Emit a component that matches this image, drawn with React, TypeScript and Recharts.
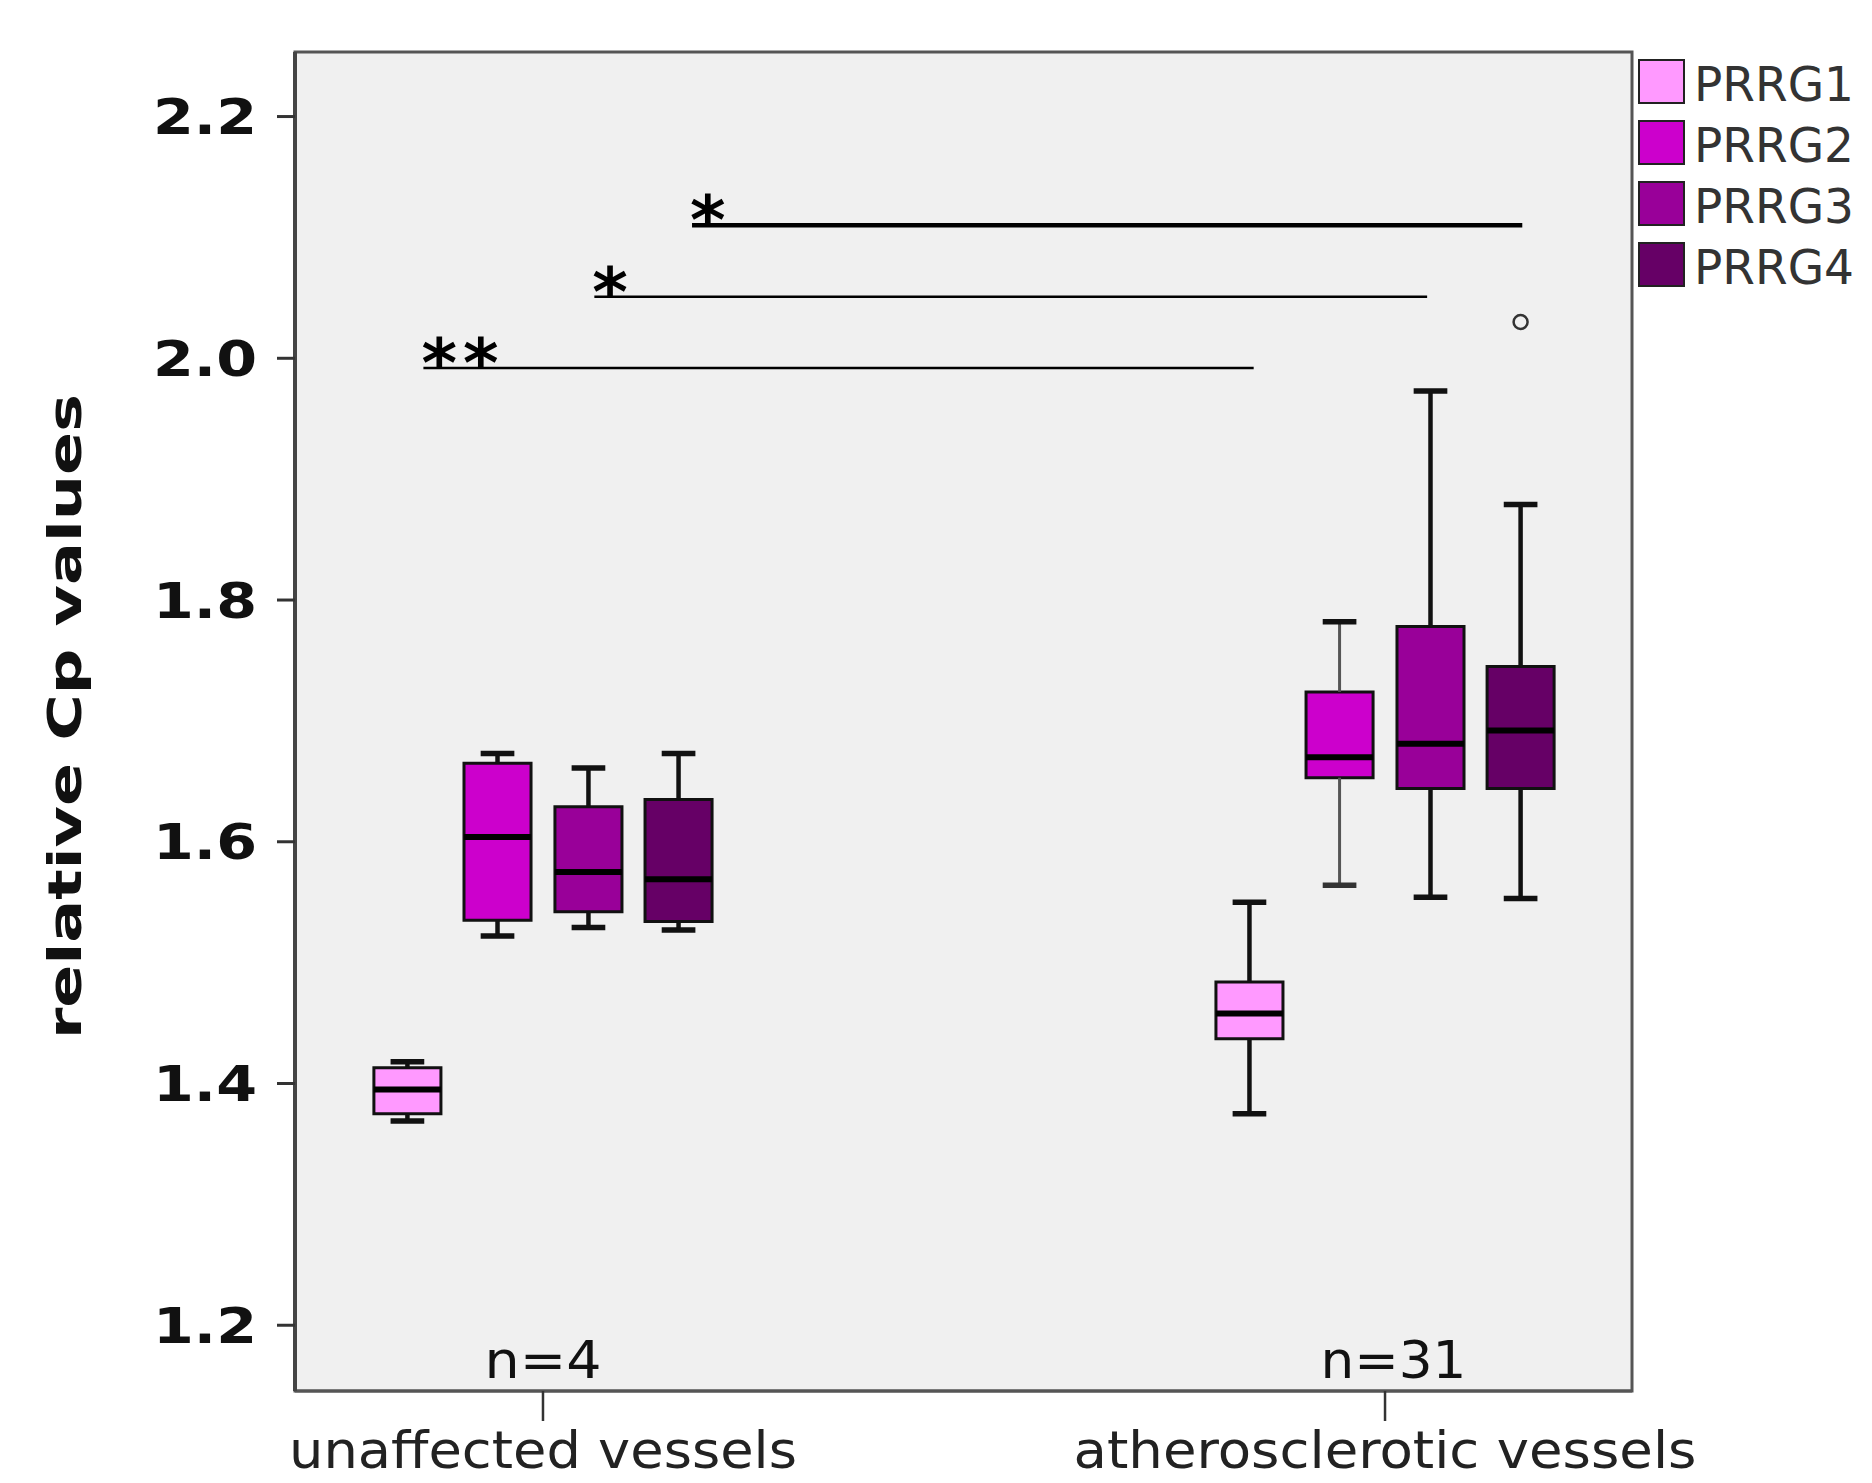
import React from 'react';
import { ComposedChart, XAxis, YAxis, ReferenceArea, ReferenceLine, Scatter, Legend } from 'recharts';

// ---------- data ----------
const groups = ['unaffected vessels', 'atherosclerotic vessels'];
const groupX = [1, 2];
const genes = ['PRRG1', 'PRRG2', 'PRRG3', 'PRRG4'];
const geneOffsets = [-0.161, -0.054, 0.054, 0.161];
// [gene][group]
const whiskerLow = [[1.369, 1.375], [1.522, 1.564], [1.529, 1.554], [1.527, 1.553]];
const q1 = [[1.375, 1.437], [1.535, 1.653], [1.542, 1.644], [1.534, 1.644]];
const median = [[1.395, 1.458], [1.604, 1.670], [1.575, 1.681], [1.569, 1.692]];
const q3 = [[1.413, 1.484], [1.665, 1.724], [1.629, 1.778], [1.635, 1.745]];
const whiskerHigh = [[1.418, 1.550], [1.673, 1.782], [1.661, 1.973], [1.673, 1.879]];
const outliers = [{ gene: 3, group: 1, y: 2.030 }];
const nLabels = [{ x: 1, y: 1.156, text: 'n=4' }, { x: 2.01, y: 1.156, text: 'n=31' }];
const sigLines = [
  { x1: 1.177, x2: 2.163, y: 2.110, stars: '*' },
  { x1: 1.061, x2: 2.050, y: 2.051, stars: '*' },
  { x1: 0.858, x2: 1.844, y: 1.992, stars: '**' },
];
const yTicks = [1.2, 1.4, 1.6, 1.8, 2.0, 2.2];
const xDomain = [0.7055, 2.2933];
const yDomain = [1.1456, 2.2534];

// ---------- styles ----------
const colors = ['#FF99FF', '#CC00CC', '#990099', '#660066'];
const boxHalf = 0.0398;
const capHalf = 0.02;
const xLabelLengths = [508, 623];
const nLabelLengths = [117, 146];
const sigWidths = [4.5, 2.5, 2.5];
const FONT = 'DejaVu Sans, Verdana, sans-serif';

const YTick = (props: any) => {
  const { x, y, payload } = props;
  return (
    <text x={x} y={y} dy="0.36em" textAnchor="end" fontFamily={FONT} fontWeight="bold"
      fontSize={49} fill="#111" textLength={104} lengthAdjust="spacingAndGlyphs">
      {Number(payload.value).toFixed(1)}
    </text>
  );
};

const XTick = (props: any) => {
  const { x, y, payload } = props;
  const i = groupX.indexOf(payload.value);
  if (i < 0) return null;
  return (
    <text x={x} y={y} dy={47} textAnchor="middle" fontFamily={FONT} fontSize={52} fill="#222"
      textLength={xLabelLengths[i]} lengthAdjust="spacingAndGlyphs">
      {groups[i]}
    </text>
  );
};

const YTitle = (props: any) => {
  const vb = props.viewBox || { x: 0, y: 52, width: 295, height: 1339 };
  const cx = 81;
  const cy = vb.y + vb.height / 2 - 5;
  return (
    <text transform={`translate(${cx},${cy}) rotate(-90)`} textAnchor="middle" fontFamily={FONT}
      fontWeight="bold" fontSize={46} fill="#111" textLength={645} lengthAdjust="spacingAndGlyphs">
      relative Cp values
    </text>
  );
};

const LegendContent = () => (
  <svg width={230} height={280} style={{ overflow: 'visible' }}>
    {genes.map((g, i) => (
      <g key={g}>
        <rect x={1} y={20 + i * 61} width={45} height={43} fill={colors[i]} stroke="#222" strokeWidth={2} />
        <text x={56} y={20 + i * 61 + 41} fontFamily={FONT} fontSize={48} fill="#333"
          textLength={160} lengthAdjust="spacingAndGlyphs">{g}</text>
      </g>
    ))}
  </svg>
);

export default function App() {
  const boxes: any[] = [];
  genes.forEach((g, gi) => {
    groupX.forEach((gx, ki) => {
      const cx = gx + geneOffsets[gi];
      const key = `${gi}-${ki}`;
      const light = gi === 1 && ki === 1;
      const wStroke = light ? '#555' : '#111';
      const wWidth = light ? 3 : 4.5;
      boxes.push(
        <ReferenceLine key={`wl${key}`} segment={[{ x: cx, y: whiskerLow[gi][ki] }, { x: cx, y: q1[gi][ki] }]}
          stroke={wStroke} strokeWidth={wWidth} ifOverflow="visible" />,
        <ReferenceLine key={`wh${key}`} segment={[{ x: cx, y: q3[gi][ki] }, { x: cx, y: whiskerHigh[gi][ki] }]}
          stroke={wStroke} strokeWidth={wWidth} ifOverflow="visible" />,
        <ReferenceLine key={`cl${key}`} segment={[{ x: cx - capHalf, y: whiskerLow[gi][ki] }, { x: cx + capHalf, y: whiskerLow[gi][ki] }]}
          stroke={light ? '#333' : '#111'} strokeWidth={5.5} ifOverflow="visible" />,
        <ReferenceLine key={`ch${key}`} segment={[{ x: cx - capHalf, y: whiskerHigh[gi][ki] }, { x: cx + capHalf, y: whiskerHigh[gi][ki] }]}
          stroke="#111" strokeWidth={5.5} ifOverflow="visible" />,
        <ReferenceArea key={`b${key}`} x1={cx - boxHalf} x2={cx + boxHalf} y1={q1[gi][ki]} y2={q3[gi][ki]}
          fill={colors[gi]} fillOpacity={1} stroke="#111" strokeWidth={3} ifOverflow="visible" />,
        <ReferenceLine key={`m${key}`} segment={[{ x: cx - boxHalf, y: median[gi][ki] }, { x: cx + boxHalf, y: median[gi][ki] }]}
          stroke="#000" strokeWidth={6} ifOverflow="visible" />,
      );
    });
  });

  const outlierData = outliers.map((o) => ({ x: groupX[o.group] + geneOffsets[o.gene], y: o.y }));
  const starData = sigLines.map((s) => ({ x: s.x1, y: s.y, text: s.stars }));

  return (
    <div style={{ position: 'absolute', left: 0, top: 0, background: '#fff' }}>
      <ComposedChart width={1872} height={1483} margin={{ top: 52, right: 240, bottom: 0, left: 0 }}>
        <XAxis type="number" dataKey="x" domain={xDomain} allowDataOverflow ticks={groupX}
          height={92} tickSize={30} tickMargin={0} tick={<XTick />}
          axisLine={{ stroke: '#555', strokeWidth: 3 }} tickLine={{ stroke: '#333', strokeWidth: 2.5 }} />
        <YAxis type="number" domain={yDomain} allowDataOverflow ticks={yTicks} width={295}
          tickSize={18} tickMargin={20} tick={<YTick />} label={<YTitle />}
          axisLine={{ stroke: '#444', strokeWidth: 4 }} tickLine={{ stroke: '#333', strokeWidth: 3 }} />
        <ReferenceArea x1={xDomain[0]} x2={xDomain[1]} y1={yDomain[0]} y2={yDomain[1]}
          fill="#F0F0F0" fillOpacity={1} stroke="#555" strokeWidth={3} ifOverflow="visible" />
        {sigLines.map((s, i) => (
          <ReferenceLine key={`s${i}`} segment={[{ x: s.x1, y: s.y }, { x: s.x2, y: s.y }]}
            stroke="#000" strokeWidth={sigWidths[i]} ifOverflow="visible" />
        ))}
        {boxes}
        <Scatter data={outlierData} dataKey="y" isAnimationActive={false}
          shape={(p: any) => <circle cx={p.cx} cy={p.cy} r={7} fill="none" stroke="#333" strokeWidth={2.5} />} />
        <Scatter data={starData} dataKey="y" isAnimationActive={false}
          shape={(p: any) => (
            <text x={p.cx} y={p.cy} dy={19} dx={-2} textAnchor="start" fontFamily={FONT} fontSize={68}
              fontWeight="bold" letterSpacing={6} fill="#000">{p.payload.text}</text>
          )} />
        <Scatter data={nLabels} dataKey="y" isAnimationActive={false}
          shape={(p: any) => (
            <text x={p.cx} y={p.cy} textAnchor="middle" fontFamily={FONT} fontSize={52} fill="#111"
              textLength={nLabelLengths[nLabels.findIndex((n) => n.text === p.payload.text)]}
              lengthAdjust="spacingAndGlyphs">{p.payload.text}</text>
          )} />
        <Legend layout="horizontal" verticalAlign="middle" align="center" content={<LegendContent />}
          wrapperStyle={{ position: 'absolute', left: 1638, top: 40, width: 232, height: 280 }} />
      </ComposedChart>
    </div>
  );
}
